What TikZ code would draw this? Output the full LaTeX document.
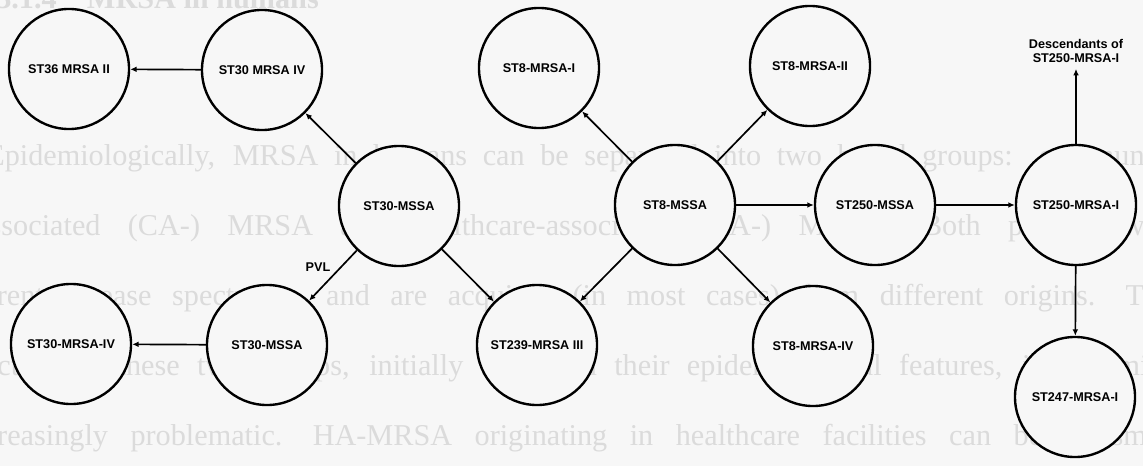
\documentclass[tikz,border=0pt]{standalone}
\usepackage{fontspec}
\setmainfont{Liberation Serif}
\setsansfont{Liberation Sans}
\usetikzlibrary{arrows.meta}

\begin{document}
\begin{tikzpicture}[x=0.025cm,y=-0.025cm,
  strain/.style={circle, draw=black, line width=1.7pt, fill=gray!6,
    minimum size=3cm, inner sep=0pt,
    font=\sffamily\bfseries\fontsize{9}{10}\selectfont},
  link/.style={line width=1.2pt, -{Latex[length=4.5pt,width=4pt]}},
  tag/.style={font=\sffamily\bfseries\fontsize{9}{10.5}\selectfont, align=center},
  bgtext/.style={anchor=base west, inner sep=0pt, text=black!14,
    font=\fontsize{21.5}{21.5}\selectfont}]
\useasboundingbox[fill=gray!6] (0,0) rectangle (1143,466);

% faint page text behind the diagram
\begin{scope}
\clip (0,0) rectangle (1143,466);
\node[bgtext] (h0) at (-4,9) {\bfseries 3.1.4\quad MRSA in humans};
\node[bgtext] (h1) at (-14,165) {\makebox[30cm][s]{Epidemiologically, MRSA in humans can be separated into two broad groups: community-}};
\node[bgtext] (h2) at (-24,235) {\makebox[30cm][s]{associated (CA-) MRSA and healthcare-associated (HA-) MRSA.\quad Both present with}};
\node[bgtext] (h3) at (-60,305) {\makebox[30.8cm][s]{different disease spectrums, and are acquired (in most cases) from different origins.\quad The}};
\node[bgtext] (h4) at (-70,375) {\makebox[31.2cm][s]{distinction of these two groups, initially based on their epidemiological features, is becoming}};
\node[bgtext] (h5) at (-40,445) {\makebox[31cm][s]{increasingly problematic.\quad HA-MRSA originating in healthcare facilities can be transmitted}};
\end{scope}

% ST30 lineage
\node[strain] (a36)   at (69,69)   {ST36 MRSA II};
\node[strain] (a30iv) at (262,70)  {ST30 MRSA IV};
\node[strain] (a30m)  at (399,206) {ST30-MSSA};
\node[strain] (b30iv) at (71,344)  {ST30-MRSA-IV};
\node[strain] (b30m)  at (267,345) {ST30-MSSA};

% ST8 / ST239 / ST250 lineage
\node[strain] (s8i)   at (539,68)  {ST8-MRSA-I};
\node[strain] (s8ii)  at (810,66)  {ST8-MRSA-II};
\node[strain] (s8m)   at (675,205) {ST8-MSSA};
\node[strain] (s239)  at (537,345) {ST239-MRSA III};
\node[strain] (s8iv)  at (813,346) {ST8-MRSA-IV};
\node[strain] (s250m) at (875,205) {ST250-MSSA};
\node[strain] (s250r) at (1076,205) {ST250-MRSA-I};
\node[strain] (s247)  at (1075,397) {ST247-MRSA-I};

\node[tag, inner sep=4pt] (desc) at (1076,51) {Descendants of\\ST250-MRSA-I};
\node[tag] (pvl) at (318,267) {PVL};

% connectors
\draw[link] (a30iv) -- (a36);
\draw[link] (a30m) -- (a30iv);
\draw[link] (a30m) -- (b30m);
\draw[link] (b30m) -- (b30iv);
\draw[link] (a30m) -- (s239);
\draw[link] (s8m) -- (s8i);
\draw[link] (s8m) -- (s8ii);
\draw[link] (s8m) -- (s239);
\draw[link] (s8m) -- (s8iv);
\draw[link] (s8m) -- (s250m);
\draw[link] (s250m) -- (s250r);
\draw[link] (s250r) -- (desc);
\draw[link] (s250r) -- (s247);
\end{tikzpicture}
\end{document}
